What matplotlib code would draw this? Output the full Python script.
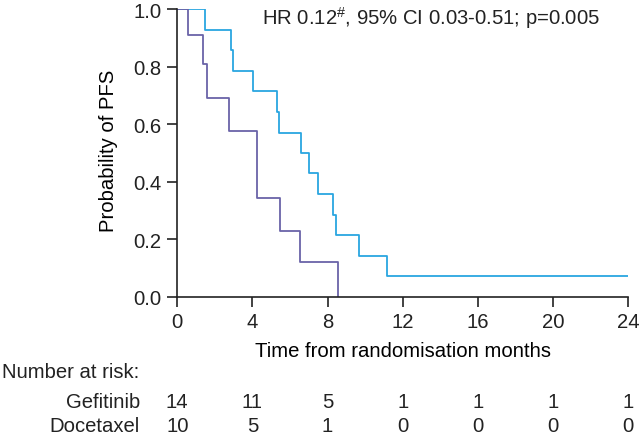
import matplotlib
matplotlib.use("Agg")
import matplotlib.pyplot as plt
import matplotlib.transforms as mtransforms

plt.rcParams['font.family'] = ['Liberation Sans', 'DejaVu Sans']
plt.rcParams['mathtext.default'] = 'regular'

# Kaplan-Meier step data (time in months, survival probability)
gef_times = [0, 1.46, 2.86, 2.97, 4.03, 5.31, 5.43, 6.59, 7.03, 7.48, 8.31, 8.44, 9.69, 11.15, 24]
gef_surv = [1.0, 0.929, 0.857, 0.786, 0.714, 0.643, 0.571, 0.5, 0.429, 0.357, 0.286, 0.214, 0.143, 0.071, 0.071]
doc_times = [0, 0.59, 1.35, 1.56, 2.75, 4.26, 5.49, 6.53, 8.56]
doc_surv = [1.0, 0.91, 0.81, 0.69, 0.575, 0.345, 0.23, 0.12, 0.0]

risk_times = [0, 4, 8, 12, 16, 20, 24]
risk_gef = [14, 11, 5, 1, 1, 1, 1]
risk_doc = [10, 5, 1, 0, 0, 0, 0]
groups = ["Gefitinib", "Docetaxel"]

gef_color = "#2aa6e0"
doc_color = "#6a63a8"
txt = "#222222"
fs = 14.6

fig = plt.figure(figsize=(6.4, 4.39), dpi=100)
ax = fig.add_axes([177.3 / 640, 1 - 297.7 / 439, (628 - 177.3) / 640, (297.7 - 10.3) / 439])

ax.step(gef_times, gef_surv, where='post', color=gef_color, lw=1.3)
ax.step(doc_times, doc_surv, where='post', color=doc_color, lw=1.3)

ax.set_xlim(0, 24)
ax.set_ylim(0, 1.0)
ax.set_xticks(risk_times)
ax.set_yticks([0.0, 0.2, 0.4, 0.6, 0.8, 1.0])
ax.set_yticklabels(["0.0", "0.2", "0.4", "0.6", "0.8", "1.0"])
for s in ['top', 'right']:
    ax.spines[s].set_visible(False)
for s in ['left', 'bottom']:
    ax.spines[s].set_linewidth(1.2)
    ax.spines[s].set_color(txt)
ax.tick_params(direction='out', length=7.2, width=1.2, pad=4, labelsize=fs, colors=txt)
ax.set_ylabel("Probability of PFS", fontsize=fs, va='center')
ax.yaxis.set_label_coords((108 - 177.3) / 450.7, 0.51)
ax.set_xlabel("Time from randomisation months", fontsize=fs, va='center')
ax.xaxis.set_label_coords(0.5, (297.7 - 351.7) / 287.4)

fig.text(262 / 640, 1 - 18 / 439, r"HR 0.12$^{\#}$, 95% CI 0.03-0.51; p=0.005",
         ha='left', va='center', fontsize=fs, color=txt)

trans = mtransforms.blended_transform_factory(ax.transData, fig.transFigure)
fig.text(1.5 / 640, 1 - 373 / 439, "Number at risk:", ha='left', va='center', fontsize=fs, color=txt)
rows = [risk_gef, risk_doc]
ys = [1 - 403 / 439, 1 - 426.5 / 439]
for name, vals, y in zip(groups, rows, ys):
    fig.text(140 / 640, y, name, ha='right', va='center', fontsize=fs, color=txt)
    for t, v in zip(risk_times, vals):
        ax.text(t, y, str(v), transform=trans, ha='center', va='center', fontsize=fs,
                color=txt, clip_on=False)

fig.savefig("out.png", dpi=100)
